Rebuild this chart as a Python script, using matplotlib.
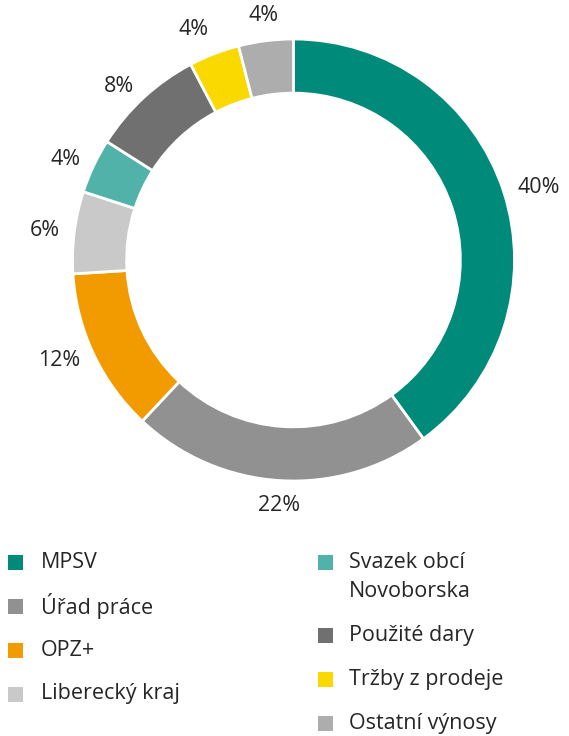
import numpy as np
import matplotlib
matplotlib.use("Agg")
import matplotlib.pyplot as plt
from matplotlib.patches import Rectangle

plt.rcParams['font.family'] = ['Open Sans', 'DejaVu Sans']

# data (clockwise from the top)
labels = ["MPSV", "Úřad práce", "OPZ+", "Liberecký kraj",
          "Svazek obcí\nNovoborska", "Použité dary", "Tržby z prodeje", "Ostatní výnosy"]
values = [40, 22, 12, 6, 4, 8.3, 3.7, 4]
colors = ["#008A7A", "#919191", "#F29B00", "#C9C9C9",
          "#50B2A8", "#707070", "#FAD900", "#ADADAD"]

W, H = 569, 736
fig = plt.figure(figsize=(W / 100, H / 100), dpi=100)

# donut axes: centre (293.5, 260) px, radius 221 px
cx, cy, R = 293.5, 260, 221
ax = fig.add_axes([(cx - R) / W, 1 - (cy + R) / H, 2 * R / W, 2 * R / H])
wedges, _ = ax.pie(values, colors=colors, startangle=90, counterclock=False,
                   radius=1, wedgeprops=dict(width=0.245, edgecolor="white", linewidth=2))
ax.set_xlim(-1, 1)
ax.set_ylim(-1, 1)
ax.axis("off")

# percentage labels outside the ring
text_col = "#262626"
fs = 15.5
for w, v in zip(wedges, values):
    ang = np.deg2rad((w.theta1 + w.theta2) / 2)
    x, y = 1.065 * np.cos(ang), 1.065 * np.sin(ang)
    if abs(x) < 0.3:
        ha = "center"
    else:
        ha = "left" if x > 0 else "right"
    va = "center"
    if y > 0.9:
        va = "bottom"
    elif y < -0.9:
        va = "top"
    ax.text(x, y, f"{v:.0f}%", ha=ha, va=va, fontsize=fs, color=text_col)

# legend drawn by hand (two columns, multi-line entry aligned on its first line)
cols = [(8, 41, 562, labels[:4], colors[:4]), (318, 349, 562, labels[4:], colors[4:])]
for mx, tx, y0, labs, cols_ in cols:
    y = y0
    for lab, c in zip(labs, cols_):
        fig.patches.append(Rectangle((mx / W, 1 - (y + 7.5) / H), 15 / W, 15 / H,
                                     transform=fig.transFigure, facecolor=c, edgecolor="none"))
        lines = lab.split("\n")
        for i, ln in enumerate(lines):
            fig.text(tx / W, 1 - (y + i * 29.5) / H, ln, ha="left", va="center",
                     fontsize=fs, color=text_col)
        y += 44 + 29.5 * (len(lines) - 1)

fig.savefig("out.png", dpi=100)
